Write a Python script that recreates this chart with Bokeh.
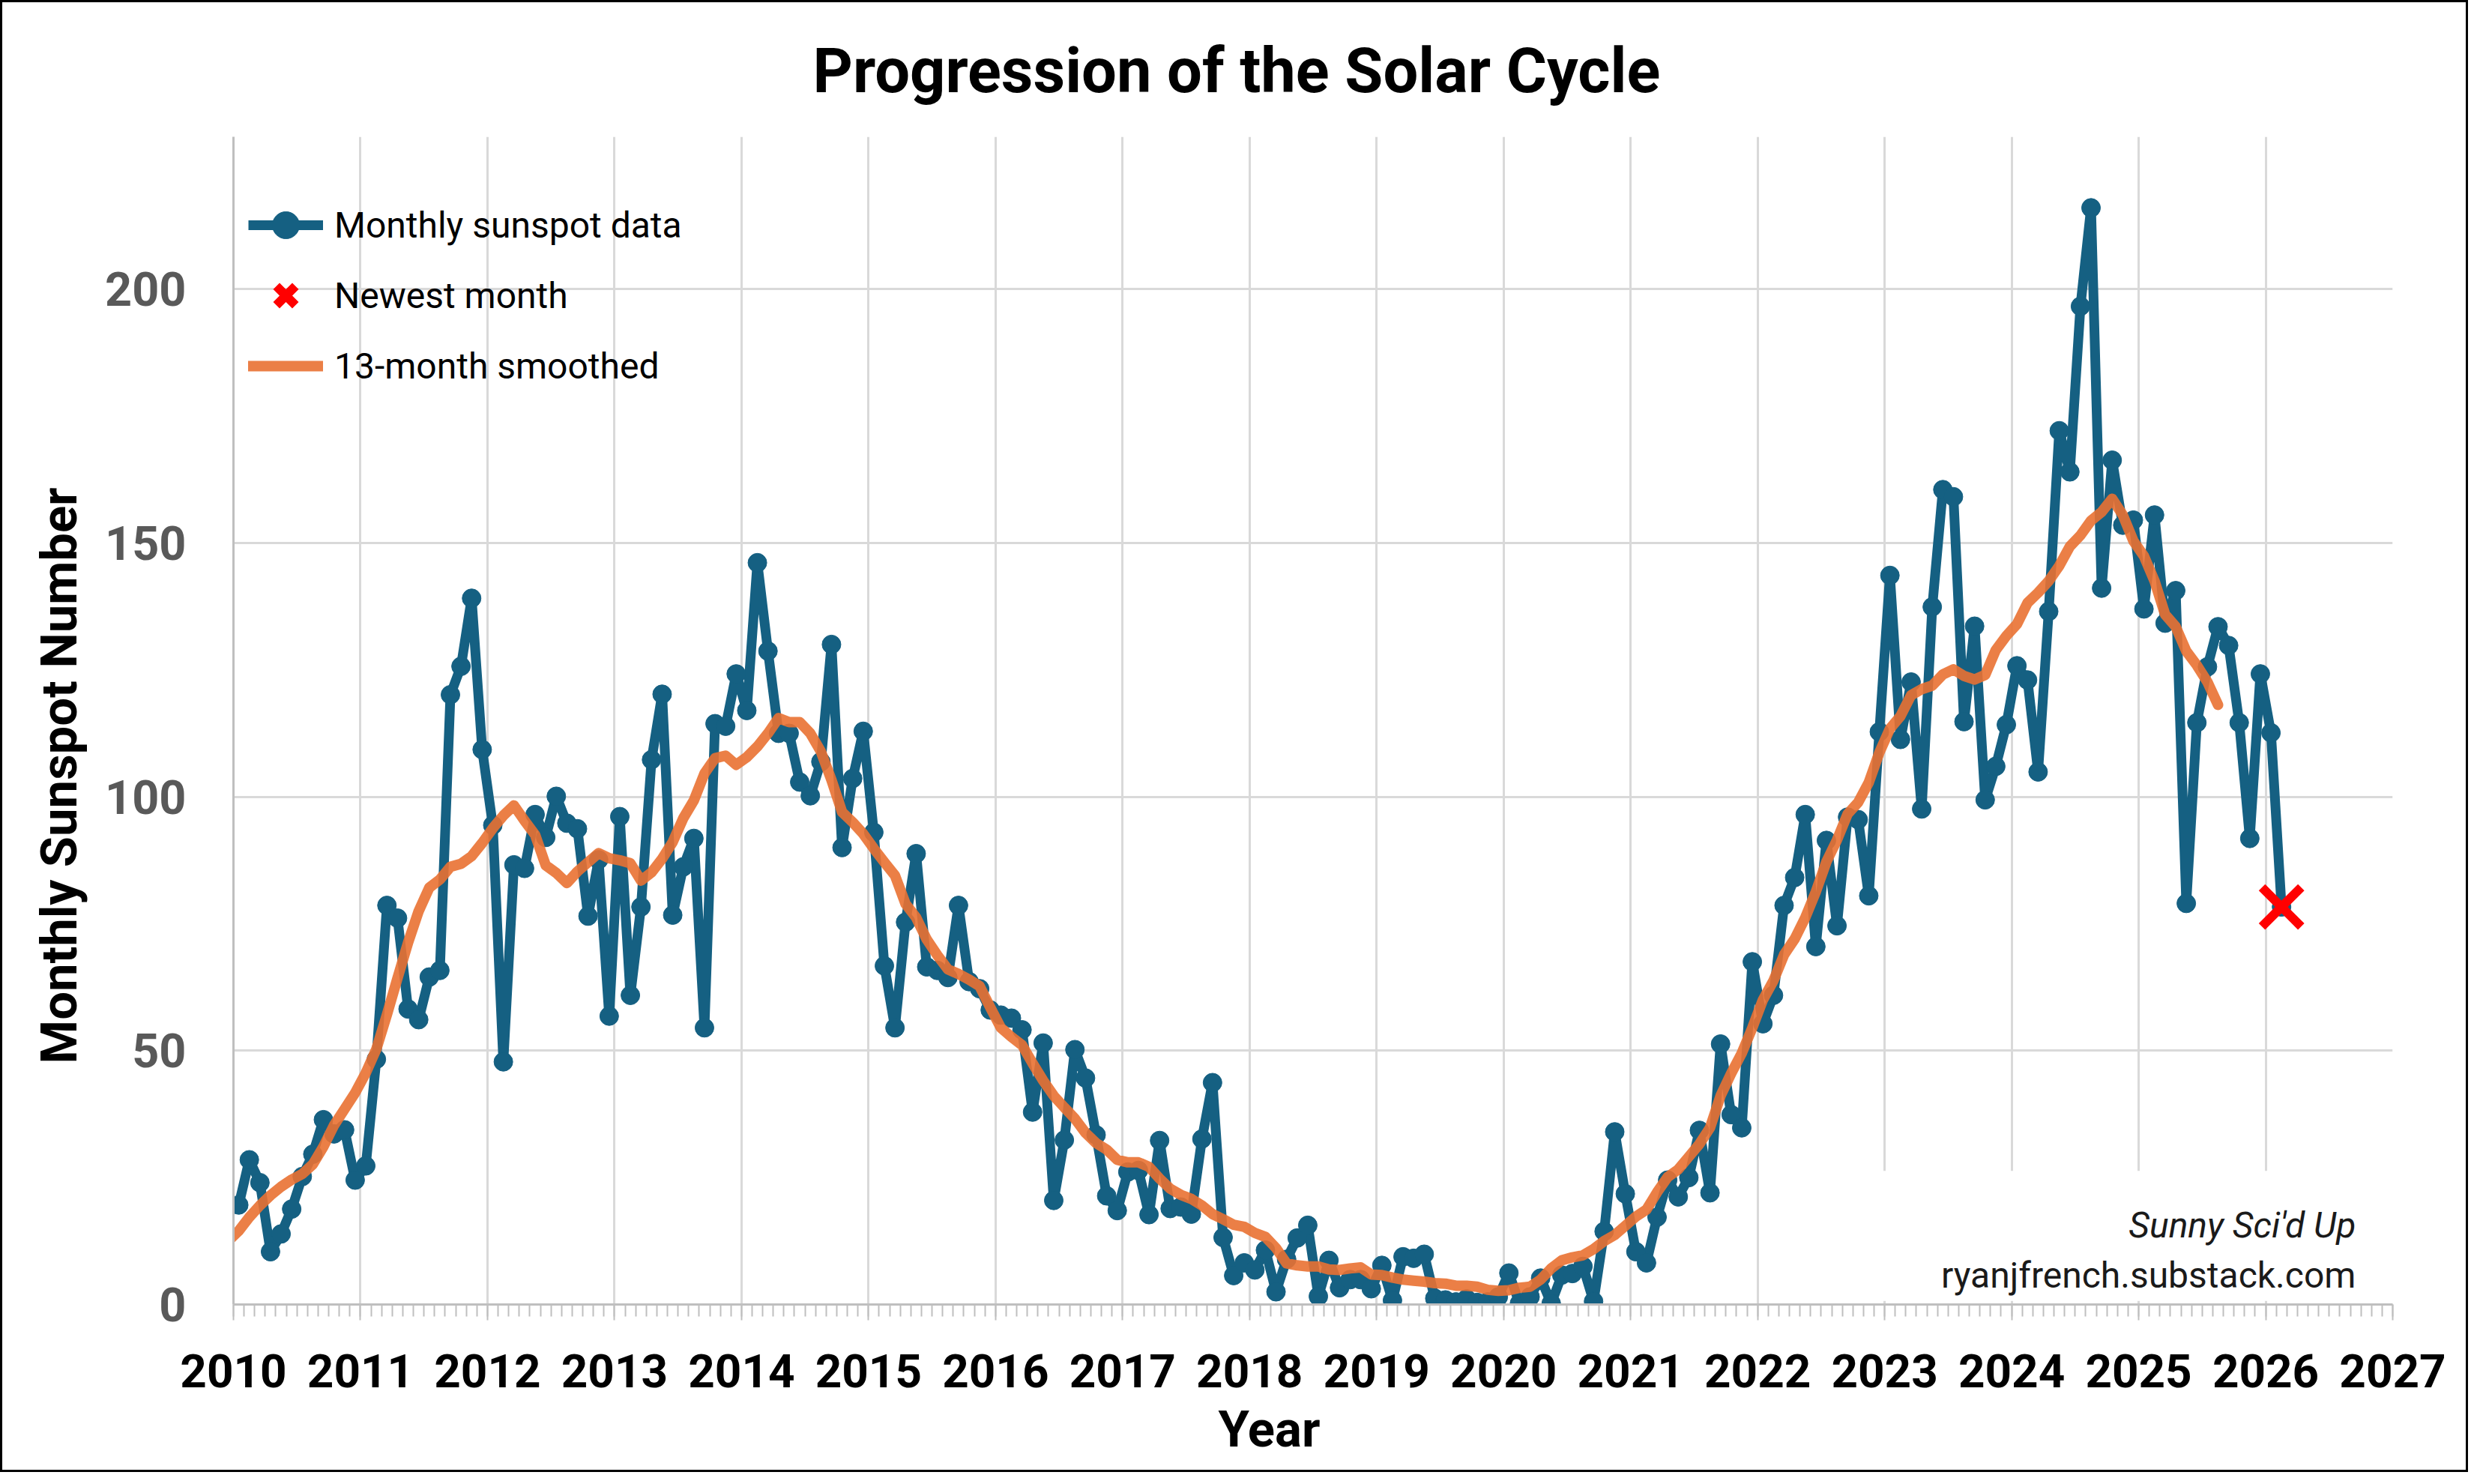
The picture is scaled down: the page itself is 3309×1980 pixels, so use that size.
from bokeh.plotting import figure
from bokeh.models import Range1d, FixedTicker, Label, Legend, LegendItem, BoxAnnotation, Title
from bokeh.embed import file_html
from bokeh.resources import INLINE

FONT = "Roboto"
BLUE = "#156082"
ORANGE = "#E97132"

# ---- Monthly mean sunspot number, Jan 2010 .. Feb 2026 ----
ssn_2010 = [19.6, 28.5, 24.0, 10.4, 13.9, 18.8, 25.2, 29.6, 36.4, 33.6, 34.4, 24.5]
ssn_2011 = [27.3, 48.3, 78.6, 76.1, 58.2, 56.1, 64.5, 65.8, 120.1, 125.7, 139.1, 109.3]
ssn_2012 = [94.4, 47.8, 86.6, 85.9, 96.5, 92.0, 100.1, 94.8, 93.7, 76.5, 87.6, 56.8]
ssn_2013 = [96.1, 60.9, 78.3, 107.3, 120.2, 76.7, 86.2, 91.8, 54.5, 114.4, 113.9, 124.2]
ssn_2014 = [117.0, 146.1, 128.7, 112.5, 112.5, 102.9, 100.2, 106.9, 130.0, 90.0, 103.6, 112.9]
ssn_2015 = [93.0, 66.7, 54.5, 75.3, 88.8, 66.5, 65.8, 64.4, 78.6, 63.6, 62.2, 58.0]
ssn_2016 = [57.0, 56.4, 54.1, 37.9, 51.5, 20.5, 32.4, 50.2, 44.6, 33.4, 21.4, 18.5]
ssn_2017 = [26.1, 26.4, 17.7, 32.3, 18.9, 19.2, 17.8, 32.6, 43.7, 13.2, 5.7, 8.2]
ssn_2018 = [6.8, 10.7, 2.5, 8.9, 13.1, 15.6, 1.6, 8.7, 3.3, 4.9, 4.9, 3.1]
ssn_2019 = [7.7, 0.8, 9.4, 9.1, 9.9, 1.2, 0.9, 0.5, 1.1, 0.4, 0.5, 1.5]
ssn_2020 = [6.2, 0.2, 1.5, 5.2, 0.2, 5.8, 6.1, 7.5, 0.6, 14.4, 34.0, 21.8]
ssn_2021 = [10.4, 8.2, 17.2, 24.5, 21.2, 25.0, 34.3, 22.0, 51.3, 37.4, 34.8, 67.5]
ssn_2022 = [55.3, 60.9, 78.6, 84.1, 96.5, 70.5, 91.4, 74.6, 96.0, 95.5, 80.5, 112.8]
ssn_2023 = [143.6, 111.3, 122.6, 97.6, 137.4, 160.5, 159.1, 114.8, 133.6, 99.4, 106.0, 114.2]
ssn_2024 = [125.8, 123.0, 104.9, 136.5, 172.1, 164.0, 196.6, 216.0, 141.1, 166.3, 153.5, 154.5]
ssn_2025 = [137.0, 155.5, 134.2, 140.6, 79.0, 114.6, 125.6, 133.5, 129.8, 114.6, 91.8, 124.2]
ssn_2026 = [112.6, 78.3]

# ---- 13-month smoothed sunspot number, Dec 2009 .. Aug 2025 ----
sm_2009 = [12.5]
sm_2010 = [14.5, 17.2, 19.5, 21.5, 23.2, 24.6, 25.7, 27.6, 31.1, 35.3, 38.5, 41.7]
sm_2011 = [45.6, 50.3, 57.1, 64.3, 71.3, 77.5, 82.1, 83.7, 86.2, 86.8, 88.3, 90.9]
sm_2012 = [93.8, 96.3, 98.3, 95.3, 92.5, 86.5, 85.0, 83.0, 85.3, 87.1, 88.9, 87.9]
sm_2013 = [87.5, 86.9, 83.5, 85.1, 87.8, 91.1, 95.8, 99.3, 104.6, 107.6, 108.1, 106.3]
sm_2014 = [107.8, 109.9, 112.5, 115.5, 114.7, 114.7, 112.5, 108.9, 103.3, 97.0, 95.0, 92.7]
sm_2015 = [89.8, 87.1, 84.5, 78.9, 76.2, 71.9, 68.8, 66.0, 65.1, 64.0, 62.7, 58.5]
sm_2016 = [54.5, 52.7, 51.1, 47.5, 44.1, 41.1, 38.8, 36.6, 33.8, 31.8, 30.5, 28.5]
sm_2017 = [28.0, 28.0, 27.1, 24.8, 22.8, 21.6, 20.8, 19.5, 17.8, 16.8, 15.7, 15.3]
sm_2018 = [14.1, 13.3, 11.1, 8.1, 7.7, 7.5, 7.5, 6.9, 6.8, 7.1, 7.3, 5.9]
sm_2019 = [5.8, 5.3, 4.9, 4.7, 4.5, 4.2, 4.1, 3.7, 3.7, 3.5, 2.9, 2.7]
sm_2020 = [2.8, 3.3, 3.5, 4.9, 7.1, 8.7, 9.3, 9.7, 10.9, 12.5, 13.7, 15.5]
sm_2021 = [17.3, 18.7, 22.1, 25.1, 26.6, 29.1, 31.6, 34.8, 41.1, 45.5, 49.5, 54.5]
sm_2022 = [60.0, 63.8, 68.9, 72.0, 76.2, 81.3, 87.2, 91.5, 96.6, 98.9, 102.8, 108.7]
sm_2023 = [113.4, 115.9, 120.0, 121.2, 121.9, 124.1, 125.1, 123.8, 123.1, 124.0, 128.9, 131.7]
sm_2024 = [134.0, 138.2, 140.2, 142.5, 145.5, 149.3, 151.5, 154.4, 156.1, 158.7, 155.5, 150.4]
sm_2025 = [147.4, 142.5, 135.9, 133.5, 128.7, 125.9, 122.6, 118.1]

year_ticks = list(range(2010, 2028))
y_ticks = [0, 50, 100, 150, 200]

monthly = (ssn_2010 + ssn_2011 + ssn_2012 + ssn_2013 + ssn_2014 + ssn_2015 + ssn_2016 +
           ssn_2017 + ssn_2018 + ssn_2019 + ssn_2020 + ssn_2021 + ssn_2022 + ssn_2023 +
           ssn_2024 + ssn_2025 + ssn_2026)
x_monthly = [2010 + (i + 0.5) / 12 for i in range(len(monthly))]

smoothed = (sm_2009 + sm_2010 + sm_2011 + sm_2012 + sm_2013 + sm_2014 + sm_2015 + sm_2016 +
            sm_2017 + sm_2018 + sm_2019 + sm_2020 + sm_2021 + sm_2022 + sm_2023 + sm_2024 + sm_2025)
x_smoothed = [2009 + (11 + i + 0.5) / 12 for i in range(len(smoothed))]

month_ticks = [2010 + k / 12 for k in range(0, 17 * 12 + 1)]

p = figure(frame_width=2881, frame_height=1558, output_backend="svg", toolbar_location=None,
           x_range=Range1d(2010, 2027), y_range=Range1d(0, 230),
           min_border_left=308, min_border_right=98, min_border_top=179, min_border_bottom=221)
p.styles = {"border": "3px solid black"}
p.outline_line_color = None
p.background_fill_color = "white"
p.border_fill_color = "white"

# chart title
p.title.text = "Progression of the Solar Cycle"
p.title.align = "left"
p.title.offset = 773
p.title.standoff = 80
p.title.text_font = FONT
p.title.text_font_size = "83px"
p.title.text_font_style = "bold"
p.title.text_color = "black"

xa = p.xaxis[0]
xa.ticker = FixedTicker(ticks=year_ticks, minor_ticks=month_ticks)
xa.major_label_text_font = FONT
xa.major_label_text_font_size = "62px"
xa.major_label_text_font_style = "bold"
xa.major_label_text_color = "black"
xa.axis_line_color = "#bfbfbf"
xa.axis_line_width = 3
xa.major_tick_line_color = "#bfbfbf"
xa.major_tick_line_width = 2
xa.major_tick_out = 21
xa.major_tick_in = 0
xa.minor_tick_line_color = "#bfbfbf"
xa.minor_tick_line_width = 2
xa.minor_tick_out = 16
xa.minor_tick_in = 0
xa.major_label_standoff = 45

ya = p.yaxis[0]
ya.ticker = FixedTicker(ticks=y_ticks)
ya.major_tick_line_color = None
ya.minor_tick_line_color = None
ya.major_tick_out = 0
ya.major_tick_in = 0
ya.axis_line_color = "#bfbfbf"
ya.axis_line_width = 3
ya.major_label_text_font = FONT
ya.major_label_text_font_size = "63px"
ya.major_label_text_font_style = "bold"
ya.major_label_text_color = "#595959"
ya.major_label_standoff = 63

# axis titles
p.add_layout(Title(text="Monthly Sunspot Number", align="left", offset=321, standoff=40,
                   vertical_align="bottom", text_font=FONT, text_font_size="67px",
                   text_font_style="bold", text_color="black"), "left")
p.add_layout(Title(text="Year", align="left", offset=1314, standoff=24,
                   vertical_align="bottom", text_font=FONT, text_font_size="67px",
                   text_font_style="bold", text_color="black"), "below")

p.xgrid.grid_line_color = "#d9d9d9"
p.xgrid.grid_line_width = 3
p.ygrid.grid_line_color = "#d9d9d9"
p.ygrid.grid_line_width = 3

# white box behind the credit text
p.add_layout(BoxAnnotation(left=2022.95, right=2026.97, bottom=0.7, top=26.3,
                           fill_color="white", fill_alpha=1.0, line_color=None,
                           level="underlay"))

line_r = p.line(x_monthly, monthly, line_color=BLUE, line_width=13, line_join="round")
dots_r = p.scatter(x_monthly, monthly, size=25, fill_color=BLUE, line_color=BLUE)
smooth_r = p.line(x_smoothed, smoothed, line_color=ORANGE, line_width=14, line_alpha=0.9,
                  line_cap="round", line_join="round")
newest_r = p.scatter([x_monthly[-1]], [monthly[-1]], marker="x", size=74,
                     line_color="#ff0000", line_width=12)

legend = Legend(items=[LegendItem(label="Monthly sunspot data", renderers=[line_r, dots_r]),
                       LegendItem(label="Newest month", renderers=[newest_r]),
                       LegendItem(label="13-month smoothed", renderers=[smooth_r])],
                location=(20, 1207), glyph_width=100, glyph_height=90, spacing=4,
                padding=0, margin=0, label_standoff=15,
                label_text_font=FONT, label_text_font_size="48px", label_text_color="black",
                border_line_color=None, background_fill_alpha=0.0)
p.add_layout(legend)

p.add_layout(Label(x=2026.71, y=15.65, text="Sunny Sci'd Up",
                   text_font=FONT, text_font_size="48px", text_font_style="italic",
                   text_align="right", text_baseline="alphabetic", text_color="#1a1a1a"))
p.add_layout(Label(x=2026.71, y=5.76, text="ryanjfrench.substack.com",
                   text_font=FONT, text_font_size="48px",
                   text_align="right", text_baseline="alphabetic", text_color="#1a1a1a"))

open("out.html", "w").write(file_html(p, INLINE))
